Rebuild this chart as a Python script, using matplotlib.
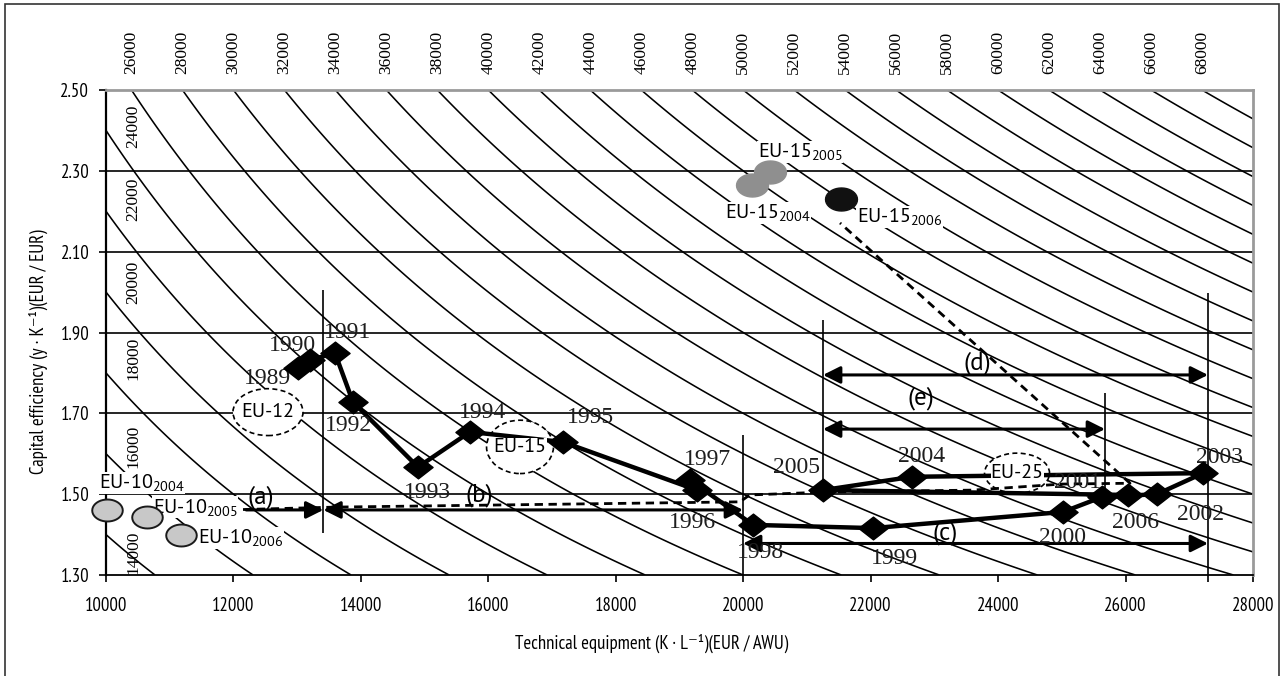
import numpy as np
import matplotlib
matplotlib.use("Agg")
import matplotlib.pyplot as plt
from matplotlib.path import Path
from matplotlib.patches import Ellipse, Rectangle
import matplotlib.transforms as mtransforms

plt.rcParams['mathtext.fontset'] = 'custom'
plt.rcParams['mathtext.rm'] = 'PT Sans'
plt.rcParams['mathtext.it'] = 'PT Sans:italic'
plt.rcParams['mathtext.bf'] = 'PT Sans:bold'

NARROW = ['PT Sans Narrow', 'Archivo Narrow', 'DejaVu Sans']
SERIF = ['Liberation Serif', 'DejaVu Serif']
SANS = ['PT Sans', 'Lato', 'DejaVu Sans']

# ---------------- data ----------------
years = [1989, 1990, 1991, 1992, 1993, 1994, 1995, 1996, 1997, 1998,
         1999, 2000, 2001, 2002, 2003, 2004, 2005, 2006]
tech_eq = [13013, 13202, 13594, 13876, 14896, 15712, 17172, 19275, 19165, 20154,
           22037, 25019, 25631, 26494, 27216, 22649, 21252, 26039]
cap_eff = [1.812, 1.832, 1.849, 1.728, 1.567, 1.654, 1.629, 1.510, 1.535, 1.424,
           1.416, 1.456, 1.493, 1.500, 1.552, 1.543, 1.510, 1.498]
year_label_x = [12542, 12919, 13798, 13798, 15038, 15917, 17596, 19197, 19432, 20264,
                22367, 25003, 25239, 27169, 27467, 22806, 20829, 26149]
year_label_y = [1.787, 1.869, 1.899, 1.671, 1.503, 1.701, 1.689, 1.431, 1.585, 1.355,
                1.342, 1.392, 1.528, 1.449, 1.590, 1.592, 1.567, 1.431]

eu10_years = ['2004', '2005', '2006']
eu10_x = [10016, 10643, 11177]
eu10_y = [1.461, 1.444, 1.399]
eu10_label_x = [9890, 10738, 11444]
eu10_label_y = [1.528, 1.468, 1.392]

eu15_years = ['2004', '2005', '2006']
eu15_x = [20138, 20421, 21535]
eu15_y = [2.265, 2.297, 2.230]
eu15_colors = ['#8f8f8f', '#8f8f8f', '#111111']
eu15_label_x = [19714, 20232, 21786]
eu15_label_y = [2.196, 2.347, 2.186]

group_names = ['EU-12', 'EU-15', 'EU-25']
group_x = [12542, 16497, 24297]
group_y = [1.703, 1.617, 1.552]
group_w = [1099, 1050, 1020]
group_h = [0.116, 0.132, 0.099]

iso_levels = list(range(14000, 70000, 2000))
top_label_levels = list(range(26000, 70000, 2000))
left_label_levels = [14000, 16000, 18000, 20000, 22000, 24000]
left_label_y = [1.355, 1.619, 1.837, 2.025, 2.230, 2.411]

arrow_names = ['(a)', '(b)', '(c)', '(d)', '(e)']
arrow_x0 = [12200, 13411, 19997, 21252, 21252]
arrow_x1 = [13411, 19997, 27294, 27294, 25678]
arrow_y = [1.461, 1.461, 1.378, 1.795, 1.661]
arrow_styles = ['-|>', '<|-|>', '<|-|>', '<|-|>', '<|-|>']
arrow_label_x = [12432, 15854, 23167, 23669, 22790]
arrow_label_y = [1.493, 1.498, 1.404, 1.825, 1.738]

vline_x = [13411, 19997, 21252, 25678, 27294]
vline_y0 = [1.404, 1.30, 1.510, 1.490, 1.283]
vline_y1 = [2.005, 1.646, 1.931, 1.750, 1.998]

eu_path_x = [12150, 13600, 19950, 20100, 21252, 23600, 25000, 26070, 21519]
eu_path_y = [1.462, 1.468, 1.481, 1.498, 1.505, 1.510, 1.525, 1.527, 2.171]

x_ticks = [10000, 12000, 14000, 16000, 18000, 20000, 22000, 24000, 26000, 28000]
y_ticks = [1.30, 1.50, 1.70, 1.90, 2.10, 2.30, 2.50]

# ---------------- figure ----------------
fig = plt.figure(figsize=(12.84, 6.76), dpi=100)
ax = fig.add_axes([106 / 1284, 1 - 575 / 676, 1147 / 1284, 485 / 676])
ax.set_xlim(x_ticks[0], x_ticks[-1])
ax.set_ylim(y_ticks[0], y_ticks[-1])

# isoquants of labour productivity (y/L = K/L * y/K)
xs = np.linspace(x_ticks[0], x_ticks[-1], 700)
ys = np.linspace(y_ticks[0], y_ticks[-1], 500)
X, Y = np.meshgrid(xs, ys)
ax.contour(X, Y, X * Y, levels=iso_levels, colors='black', linewidths=1.15, zorder=1)

# horizontal grid
ax.hlines(y_ticks[1:-1], x_ticks[0], x_ticks[-1], colors='black', lw=1.2, zorder=1.2)

# spines
for s in ['top', 'right']:
    ax.spines[s].set_color('#9a9a9a')
    ax.spines[s].set_linewidth(2.0)
ax.spines['left'].set_color('black')
ax.spines['left'].set_linewidth(1.6)
ax.spines['bottom'].set_color('black')
ax.spines['bottom'].set_linewidth(1.3)

ax.set_xticks(x_ticks)
ax.set_yticks(y_ticks)
ax.set_xticklabels([str(v) for v in x_ticks], family=NARROW, fontsize=13.5)
ax.set_yticklabels([f"{v:.2f}" for v in y_ticks], family=NARROW, fontsize=13.5)
ax.tick_params(axis='x', direction='out', length=5, width=1.2, pad=11, colors='black')
ax.tick_params(axis='y', direction='out', length=5, width=1.2, pad=7, colors='black')

# top labels (isoquant values)
trans_top = mtransforms.blended_transform_factory(ax.transData, ax.transAxes)
for c in top_label_levels:
    ax.text(c / y_ticks[-1], 1.078, str(c), transform=trans_top, rotation=90,
            ha='center', va='center', family=SERIF, fontsize=12.5, clip_on=False)

# left labels
for c, yy in zip(left_label_levels, left_label_y):
    ax.text(10424, yy, str(c), rotation=90, ha='center', va='center',
            family=SERIF, fontsize=12.5, zorder=2)

# vertical reference lines
ax.vlines(vline_x, vline_y0, vline_y1, colors='black', lw=1.2, zorder=2, clip_on=False)

# group ellipses
for name, gx, gy, gw, gh in zip(group_names, group_x, group_y, group_w, group_h):
    e = Ellipse((gx, gy), gw, gh, facecolor='white', edgecolor='black', lw=1.2,
                linestyle=(0, (3, 2)), zorder=3)
    ax.add_patch(e)

# dashed path
ax.plot(eu_path_x, eu_path_y, color='black', lw=2.0, dashes=(3, 2), zorder=3.5)

# arrows
for x0, x1, yy, st in zip(arrow_x0, arrow_x1, arrow_y, arrow_styles):
    ax.annotate('', xy=(x1, yy), xytext=(x0, yy),
                arrowprops=dict(arrowstyle=st, color='black', lw=2.2,
                                mutation_scale=26, shrinkA=0, shrinkB=0),
                zorder=4)
for name, lx, ly in zip(arrow_names, arrow_label_x, arrow_label_y):
    ax.text(lx, ly, name, ha='center', va='center', family=SANS, fontsize=18, zorder=4.5)

# main trajectory
diamond = Path([(-1, 0), (0, 0.78), (1, 0), (0, -0.78), (-1, 0)],
               [Path.MOVETO, Path.LINETO, Path.LINETO, Path.LINETO, Path.CLOSEPOLY])
ax.plot(tech_eq, cap_eff, color='black', lw=3.2, zorder=5, solid_joinstyle='miter')
ax.plot(tech_eq, cap_eff, ls='none', marker=diamond, ms=21, color='black', zorder=6)
for yr, lx, ly in zip(years, year_label_x, year_label_y):
    ax.text(lx, ly, str(yr), ha='center', va='center', family=SERIF, fontsize=17,
            color='#1e1e1e', zorder=5.5)

# group labels
for name, gx, gy in zip(group_names, group_x, group_y):
    ax.text(gx, gy, name, ha='center', va='center', family=SANS, fontsize=14.5, zorder=5.7,
            bbox=dict(facecolor='white', edgecolor='none', pad=0.0))

# ellipse-shaped markers
t = np.linspace(0, 2 * np.pi, 41)
oval = Path(np.column_stack([np.cos(t), 0.72 * np.sin(t)]), closed=True)
ax.plot(eu10_x, eu10_y, ls='none', marker=oval, ms=22, markerfacecolor='#c8c8c8',
        markeredgecolor='#1a1a1a', markeredgewidth=1.4, zorder=6, clip_on=False)
for i in range(len(eu15_x)):
    ax.plot(eu15_x[i], eu15_y[i], ls='none', marker=oval, ms=23,
            markerfacecolor=eu15_colors[i], markeredgecolor=eu15_colors[i], zorder=6)

for yr, lx, ly in zip(eu10_years, eu10_label_x, eu10_label_y):
    ax.text(lx, ly, "EU-10$_{" + yr + "}$", ha='left', va='center', family=SANS,
            fontsize=14.5, zorder=5.8, clip_on=False,
            bbox=dict(facecolor='white', edgecolor='none', pad=0.5))
for yr, lx, ly in zip(eu15_years, eu15_label_x, eu15_label_y):
    ax.text(lx, ly, "EU-15$_{" + yr + "}$", ha='left', va='center', family=SANS,
            fontsize=14.5, zorder=5.8,
            bbox=dict(facecolor='white', edgecolor='none', pad=0.5))

# axis labels
ax.set_xlabel("Technical equipment (K · L⁻¹)(EUR / AWU)", family=NARROW, fontsize=13.5, va='center')
ax.xaxis.set_label_coords(0.476, -(643 - 575) / 485)
ax.set_ylabel("Capital efficiency (y · K⁻¹)(EUR / EUR)", family=NARROW, fontsize=13.5, va='center')
ax.yaxis.set_label_coords((38 - 106) / 1147, 0.46)

# outer frame
fig.add_artist(Rectangle((5 / 1284, -0.05), (1279 - 5) / 1284, (1 - 4 / 676) + 0.05,
                         transform=fig.transFigure, fill=False, edgecolor='#333333', lw=1.2))

fig.savefig('out.png', dpi=100)
